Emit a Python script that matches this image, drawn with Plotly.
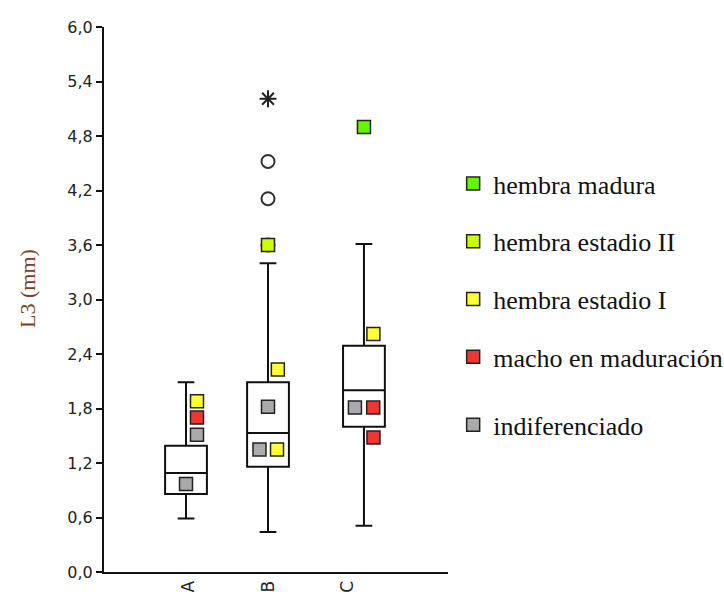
import plotly.graph_objects as go

# ---- data ----
categories = ["A", "B", "C"]
q1 = [0.86, 1.16, 1.60]
median = [1.09, 1.53, 2.00]
q3 = [1.39, 2.09, 2.49]
lower_whisker = [0.59, 0.44, 0.51]
upper_whisker = [2.09, 3.40, 3.61]

outliers_B = [3.60, 4.11, 4.52]
extreme_B = [5.21]

hembra_madura_cat = ["C"]
hembra_madura_val = [4.90]
hembra_estadio2_cat = ["B"]
hembra_estadio2_val = [3.60]
hembra_estadio1_cat = ["A", "B", "B", "C"]
hembra_estadio1_val = [1.88, 2.23, 1.35, 2.62]
macho_cat = ["A", "C", "C"]
macho_val = [1.70, 1.81, 1.48]
indif_cat = ["A", "A", "B", "B", "C"]
indif_val = [1.51, 0.97, 1.82, 1.35, 1.81]

# ---- layout positions (not data) ----
box_pos = {"A": 1.0, "B": 2.0, "C": 3.17}
label_pos = [1.03, 2.0, 2.97]
off_madura = [0.0]
off_est2 = [0.0]
off_est1 = [0.134, 0.12, 0.11, 0.115]
off_macho = [0.134, 0.113, 0.116]
off_indif = [0.134, 0.0, 0.0, -0.104, -0.11]

def xs(cats, offs):
    return [box_pos[c] + o for c, o in zip(cats, offs)]

fig = go.Figure()

fig.add_trace(go.Box(
    x=[box_pos[c] for c in categories],
    q1=q1, median=median, q3=q3,
    lowerfence=lower_whisker, upperfence=upper_whisker,
    width=0.51, whiskerwidth=0.4,
    fillcolor="white", line=dict(color="#111111", width=2),
    boxpoints=False, showlegend=False, hoverinfo="skip",
))

fig.add_trace(go.Scatter(
    x=[box_pos["B"]] * len(outliers_B), y=outliers_B, mode="markers",
    marker=dict(symbol="circle-open", size=13, color="#333333", line=dict(width=2)),
    showlegend=False, hoverinfo="skip",
))
fig.add_trace(go.Scatter(
    x=[box_pos["B"]] * len(extreme_B), y=extreme_B, mode="markers",
    marker=dict(symbol="asterisk-open", size=14, color="#222222", line=dict(width=2, color="#222222")),
    showlegend=False, hoverinfo="skip",
))

groups = [
    ("hembra madura", hembra_madura_cat, hembra_madura_val, off_madura, "#66F500", "legend"),
    ("hembra estadio II", hembra_estadio2_cat, hembra_estadio2_val, off_est2, "#CCFF00", "legend"),
    ("hembra estadio I", hembra_estadio1_cat, hembra_estadio1_val, off_est1, "#FFFF33", "legend"),
    ("macho en maduración", macho_cat, macho_val, off_macho, "#F03535", "legend"),
    ("indiferenciado", indif_cat, indif_val, off_indif, "#AAAAAA", "legend2"),
]
for i, (name, cats, vals, offs, col, lg) in enumerate(groups):
    fig.add_trace(go.Scatter(
        x=xs(cats, offs), y=vals, mode="markers", name=name,
        marker=dict(symbol="square", size=13, color=col, line=dict(color="#222222", width=1.5)),
        legendgroup=f"g{i}", legend=lg, hoverinfo="skip",
    ))

legend_font = dict(family="Liberation Serif", size=26, color="#111111")

fig.update_layout(
    width=724, height=592,
    margin=dict(l=104, r=276, t=27, b=20, autoexpand=False),
    paper_bgcolor="white", plot_bgcolor="white",
    separators=",.",
    legend=dict(x=1.015, y=0.756, xanchor="left", yanchor="top",
                font=legend_font, tracegroupgap=21, bgcolor="rgba(0,0,0,0)"),
    legend2=dict(x=1.015, y=0.313, xanchor="left", yanchor="top",
                 font=legend_font, bgcolor="rgba(0,0,0,0)"),
    xaxis=dict(range=[0, 4.195], showline=True, linecolor="#111111", linewidth=2,
               showgrid=False, zeroline=False, ticks="",
               tickmode="array", tickvals=label_pos, ticktext=categories,
               tickangle=-90, tickfont=dict(family="DejaVu Sans", size=17, color="#222222"),
               automargin=False),
    yaxis=dict(range=[0, 6], tick0=0, dtick=0.6, tickformat=".1f",
               showline=True, linecolor="#111111", linewidth=2,
               showgrid=False, zeroline=False,
               ticks="outside", ticklen=6, tickwidth=1.5, tickcolor="#111111",
               tickfont=dict(family="DejaVu Sans", size=16, color="#222222"),
               automargin=False),
    annotations=[dict(
        text="L3 (mm)", textangle=-90, showarrow=False,
        xref="paper", yref="paper", x=-0.224, y=0.521,
        xanchor="center", yanchor="middle",
        font=dict(family="Liberation Serif", size=22, color="#7A4020"),
    )],
)

fig.write_html("out.html")
